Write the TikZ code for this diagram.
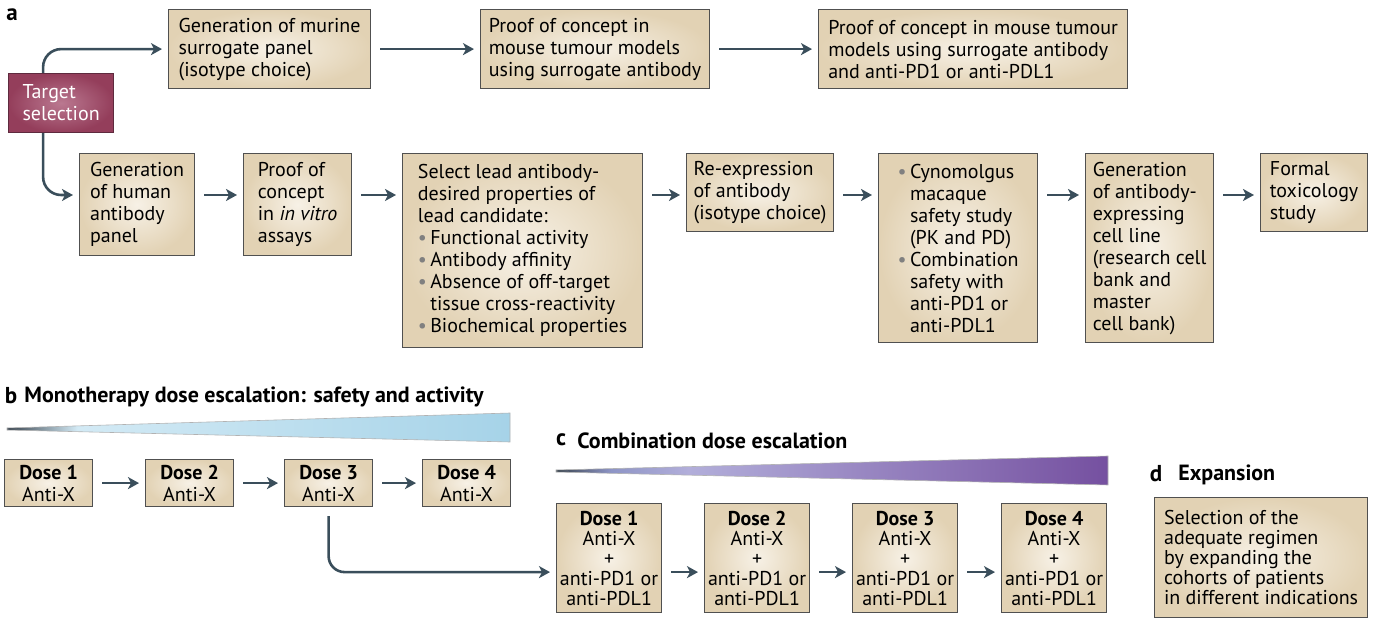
\documentclass[tikz,border=0pt]{standalone}
\usepackage{fontspec}
\setmainfont{PT Sans}
\usetikzlibrary{arrows.meta}
\definecolor{boxin}{HTML}{F7F1E6}
\definecolor{boxout}{HTML}{E2D2B4}
\definecolor{boxline}{HTML}{505050}
\definecolor{tgin}{HTML}{BA7890}
\definecolor{tgout}{HTML}{943E5B}
\definecolor{tgline}{HTML}{5E2A3E}
\definecolor{arrowc}{HTML}{3A4E5B}
\definecolor{bulletc}{HTML}{808080}
\definecolor{wdark}{HTML}{38434E}
\definecolor{blueA}{HTML}{D3EAF5}
\definecolor{blueB}{HTML}{A6D3E8}
\definecolor{violM}{HTML}{8E95C6}
\definecolor{violA}{HTML}{B2AEDA}
\definecolor{violB}{HTML}{7550A0}
\pgfdeclarehorizontalshading{monowedge}{100bp}{color(0bp)=(wdark); color(25bp)=(wdark); color(32bp)=(blueA); color(75bp)=(blueB); color(100bp)=(blueB)}
\pgfdeclarehorizontalshading{combowedge}{100bp}{color(0bp)=(wdark); color(25bp)=(wdark); color(30bp)=(violM); color(37bp)=(violA); color(75bp)=(violB); color(100bp)=(violB)}
\newcommand\blt{{\color{bulletc}\textbullet}\,}

\begin{document}
\begin{tikzpicture}[x=0.5pt,y=-0.5pt]
\useasboundingbox (0,0) rectangle (1375,619);
\tikzstyle{stage}=[rectangle, draw=boxline, line width=0.6pt, inner color=boxin, outer color=boxout,
    anchor=north west, align=left, inner sep=0pt, font=\fontsize{10}{11}\selectfont]
\tikzstyle{dose}=[stage, align=center]
\tikzstyle{combo}=[stage, align=center, font=\fontsize{10}{10}\selectfont]
\tikzstyle{flow}=[draw=arrowc, line width=1.3pt, shorten <=4.5pt, shorten >=3pt,
    -{Stealth[length=5.5pt,width=6pt,inset=1.5pt]}]
\tikzstyle{tag}=[inner sep=0pt, font=\fontsize{11.5}{13}\selectfont\bfseries]
\tikzstyle{head}=[inner sep=0pt, anchor=west, font=\fontsize{11}{13}\selectfont\bfseries]

\node[tag] (taga) at (12,15) {a};
\node[rectangle, draw=tgline, line width=0.6pt, inner color=tgin, outer color=tgout, anchor=north west,
    align=left, inner sep=0pt, text=white, font=\fontsize{10}{11}\selectfont,
    minimum width=52.5pt, minimum height=29.5pt] (target) at (8,73) {Target\\selection};

\node[stage, minimum width=101pt, minimum height=39.5pt] (murine) at (168,9)
    {Generation of murine\\surrogate panel\\(isotype choice)};
\node[stage, minimum width=114.5pt, minimum height=39.5pt] (mouse) at (480,9)
    {Proof of concept in\\mouse tumour models\\using surrogate antibody};
\node[stage, minimum width=154.5pt, minimum height=39.5pt] (mousecombo) at (818,9)
    {Proof of concept in mouse tumour\\models using surrogate antibody\\and anti-PD1 or anti-PDL1};

\node[stage, minimum width=57.5pt, minimum height=51pt] (human) at (79,153)
    {Generation\\of human\\antibody\\panel};
\node[stage, minimum width=54pt, minimum height=51pt] (vitro) at (243,153)
    {Proof of\\concept\\in \textit{in vitro}\\assays};
\node[stage, minimum width=120pt, minimum height=97pt] (lead) at (402,153)
    {Select lead antibody-\\desired properties of\\lead candidate:\\\blt Functional activity\\\blt Antibody affinity\\
     \blt Absence of off-target\\\phantom{\blt}tissue cross-reactivity\\\blt Biochemical properties};
\node[stage, minimum width=73.5pt, minimum height=39pt] (reexp) at (686,153)
    {Re-expression\\of antibody\\(isotype choice)};
\node[stage, minimum width=79.5pt, minimum height=94.5pt] (cyno) at (878,153)
    {\blt Cynomolgus\\\phantom{\blt}macaque\\\phantom{\blt}safety study\\\phantom{\blt}(PK and PD)\\
     \blt Combination\\\phantom{\blt}safety with\\\phantom{\blt}anti-PD1 or\\\phantom{\blt}anti-PDL1};
\node[stage, minimum width=64pt, minimum height=94.5pt] (cellline) at (1085,153)
    {Generation\\of antibody-\\expressing\\cell line\\(research cell\\bank and\\master\\cell bank)};
\node[stage, minimum width=53.5pt, minimum height=39pt] (tox) at (1260,153)
    {Formal\\toxicology\\study};

\draw[flow, shorten <=0pt, rounded corners=9pt] ([xshift=-9pt]target.north) |- (murine.west);
\draw[flow, shorten <=0pt, rounded corners=9pt] ([xshift=-9pt]target.south) |- ([yshift=-21pt]human.north west);
\draw[flow] (murine.east) -- (mouse.west);
\draw[flow] (mouse.east) -- (mousecombo.west);
\draw[flow] ([yshift=-21pt]human.north east) -- ([yshift=-21pt]vitro.north west);
\draw[flow] ([yshift=-21pt]vitro.north east) -- ([yshift=-21pt]lead.north west);
\draw[flow] ([yshift=-21pt]lead.north east) -- ([yshift=-21pt]reexp.north west);
\draw[flow] ([yshift=-21pt]reexp.north east) -- ([yshift=-21pt]cyno.north west);
\draw[flow] ([yshift=-21pt]cyno.north east) -- ([yshift=-21pt]cellline.north west);
\draw[flow] ([yshift=-21pt]cellline.north east) -- ([yshift=-21pt]tox.north west);

\node[tag] (tagb) at (11,396) {b};
\node[head] (headb) at (24,397) {Monotherapy dose escalation: safety and activity};
\shade[shading=monowedge, draw=gray!60, line width=0.3pt] (7,428) -- (510,413) -- (510,442) -- (7,430) -- cycle;

\node[dose, minimum width=44pt, minimum height=23.5pt] (bd1) at (4,459) {\textbf{Dose 1}\\Anti-X};
\node[dose, minimum width=44pt, minimum height=23.5pt] (bd2) at (145,459) {\textbf{Dose 2}\\Anti-X};
\node[dose, minimum width=44pt, minimum height=23.5pt] (bd3) at (284,459) {\textbf{Dose 3}\\Anti-X};
\node[dose, minimum width=44pt, minimum height=23.5pt] (bd4) at (422,459) {\textbf{Dose 4}\\Anti-X};
\draw[flow] (bd1.east) -- (bd2.west);
\draw[flow] (bd2.east) -- (bd3.west);
\draw[flow] (bd3.east) -- (bd4.west);

\node[tag] (tagc) at (561,440) {c};
\node[head] (headc) at (577,441) {Combination dose escalation};
\shade[shading=combowedge, draw=gray!60, line width=0.3pt] (556,470) -- (1108,456) -- (1108,485) -- (556,472) -- cycle;

\node[combo, minimum width=52.5pt, minimum height=54.5pt] (cd1) at (556,503)
    {\textbf{Dose 1}\\Anti-X\\+\\anti-PD1 or\\anti-PDL1};
\node[combo, minimum width=52.5pt, minimum height=54.5pt] (cd2) at (704,503)
    {\textbf{Dose 2}\\Anti-X\\+\\anti-PD1 or\\anti-PDL1};
\node[combo, minimum width=52.5pt, minimum height=54.5pt] (cd3) at (852,503)
    {\textbf{Dose 3}\\Anti-X\\+\\anti-PD1 or\\anti-PDL1};
\node[combo, minimum width=52.5pt, minimum height=54.5pt] (cd4) at (1001,503)
    {\textbf{Dose 4}\\Anti-X\\+\\anti-PD1 or\\anti-PDL1};
\draw[flow, rounded corners=8pt] (bd3.south) |- ([yshift=-7pt]cd1.west);
\draw[flow] ([yshift=-7pt]cd1.east) -- ([yshift=-7pt]cd2.west);
\draw[flow] ([yshift=-7pt]cd2.east) -- ([yshift=-7pt]cd3.west);
\draw[flow] ([yshift=-7pt]cd3.east) -- ([yshift=-7pt]cd4.west);

\node[tag] (tagd) at (1156,474) {d};
\node[head] (headd) at (1178,475) {Expansion};
\node[stage, font=\fontsize{10}{10}\selectfont, minimum width=106.5pt, minimum height=60pt] (expand) at (1154,497)
    {Selection of the\\adequate regimen\\by expanding the\\cohorts of patients\\in different indications};
\end{tikzpicture}
\end{document}
